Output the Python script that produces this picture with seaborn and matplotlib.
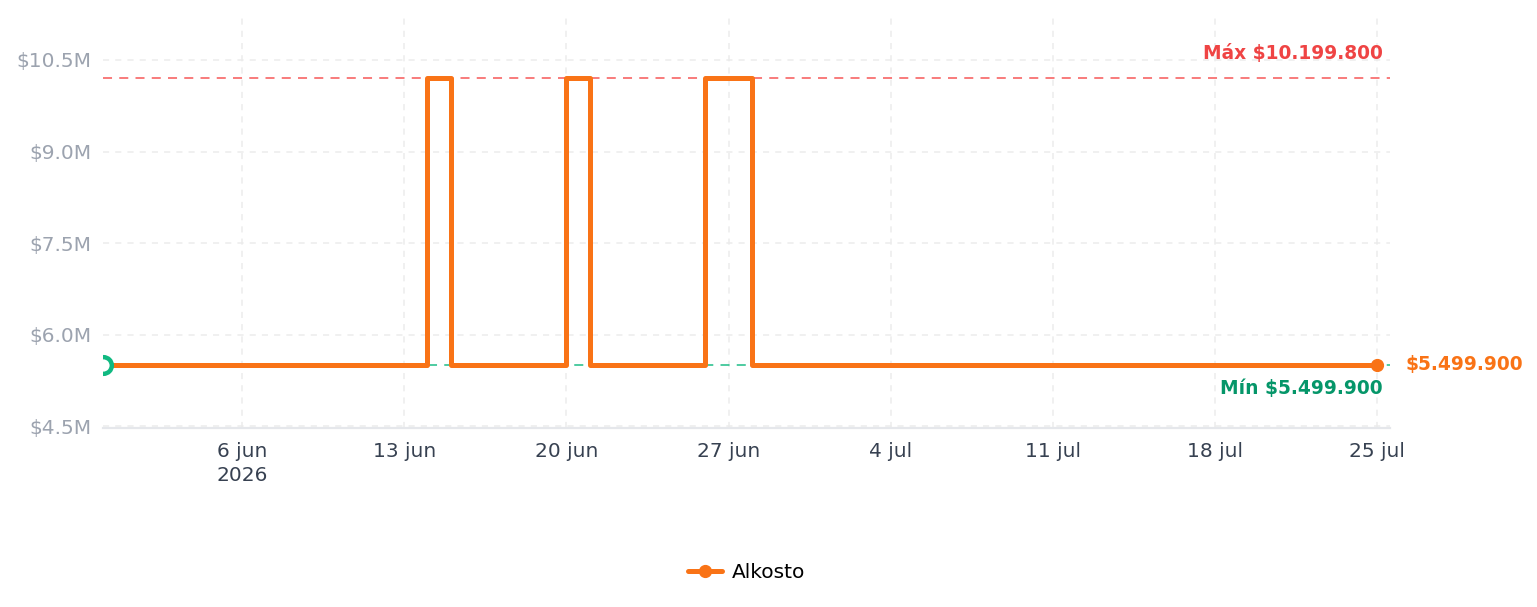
import matplotlib
matplotlib.use("Agg")
import matplotlib.pyplot as plt
import matplotlib.dates as mdates
from matplotlib.lines import Line2D
import seaborn as sns
import pandas as pd

# ---- data ----
dates = ["2026-05-31", "2026-06-14", "2026-06-15", "2026-06-20", "2026-06-21",
         "2026-06-26", "2026-06-28", "2026-07-25"]
prices = [5499900, 10199800, 5499900, 10199800, 5499900, 10199800, 5499900, 5499900]
store = "Alkosto"
tick_dates = ["2026-06-06", "2026-06-13", "2026-06-20", "2026-06-27",
              "2026-07-04", "2026-07-11", "2026-07-18", "2026-07-25"]
tick_labels = ["6 jun\n2026", "13 jun", "20 jun", "27 jun", "4 jul", "11 jul", "18 jul", "25 jul"]
y_ticks = [4.5e6, 6.0e6, 7.5e6, 9.0e6, 10.5e6]
max_price = 10199800
min_price = 5499900
max_label = "Máx $10.199.800"
min_label = "Mín $5.499.900"
last_label = "$5.499.900"

ORANGE = "#f97316"
GREEN = "#10b981"
GREEN_TXT = "#059669"
RED = "#f87171"
RED_TXT = "#ef4444"

sns.set_theme(style="white")
plt.rcParams['font.family'] = ['DejaVu Sans']

fig = plt.figure(figsize=(15.37, 6.07), dpi=100)
ax = fig.add_axes([0.067, 0.2949, 0.8374, 0.6804])

df = pd.DataFrame({"fecha": pd.to_datetime(dates), "precio": prices, "tienda": store})

# reference lines
ax.axhline(max_price, color=RED, lw=1.3, ls=(0, (5, 4)), zorder=2)
ax.axhline(min_price, color=GREEN, lw=1.3, ls=(0, (5, 4)), alpha=0.8, zorder=2)

sns.lineplot(data=df, x="fecha", y="precio", color=ORANGE, lw=3.6,
             drawstyle="steps-post", ax=ax, legend=False, zorder=3)

# start / end markers
ax.plot(df["fecha"].iloc[0], df["precio"].iloc[0], "o", mfc="white", mec=GREEN,
        ms=12, mew=3.2, zorder=5, clip_on=True)
ax.plot(df["fecha"].iloc[-1], df["precio"].iloc[-1], "o", color=ORANGE, ms=8.5, zorder=5,
        clip_on=False)

# axes limits
x0 = mdates.date2num(pd.Timestamp(dates[0]))
x1 = mdates.date2num(pd.Timestamp(dates[-1]))
ax.set_xlim(x0, x1 + 0.55)
ax.set_ylim(4.475e6, 11.235e6)

ax.set_xticks([mdates.date2num(pd.Timestamp(d)) for d in tick_dates])
ax.set_xticklabels(tick_labels, linespacing=1.35)
ax.set_yticks(y_ticks)
ax.set_yticklabels([f"${v/1e6:.1f}M" for v in y_ticks])
ax.set_xlabel("")
ax.set_ylabel("")

ax.tick_params(axis="y", length=0, labelcolor="#9ca3af", labelsize=14.5, pad=8)
ax.tick_params(axis="x", length=0, labelcolor="#374151", labelsize=14.5, pad=10)

ax.grid(True, color="#ececec", lw=1.1, ls=(0, (4, 4)), zorder=0)
for s in ["top", "right", "left"]:
    ax.spines[s].set_visible(False)
ax.spines["bottom"].set_color("#e5e7eb")
ax.spines["bottom"].set_linewidth(1.6)

# labels
ax.annotate(max_label, xy=(0.9946, max_price), xycoords=("axes fraction", "data"),
            xytext=(0, 17.5), textcoords="offset points", ha="right", va="center",
            color=RED_TXT, fontsize=13.4, fontweight="bold")
ax.annotate(min_label, xy=(0.9946, min_price), xycoords=("axes fraction", "data"),
            xytext=(0, -16.5), textcoords="offset points", ha="right", va="center",
            color=GREEN_TXT, fontsize=13.4, fontweight="bold")
ax.annotate(last_label, xy=(x1, prices[-1]), xycoords="data",
            xytext=(20, 0.5), textcoords="offset points", ha="left", va="center",
            color=ORANGE, fontsize=13.4, fontweight="bold", annotation_clip=False)

handle = Line2D([], [], color=ORANGE, lw=3.6, marker="o", ms=8.5)
leg = ax.legend([handle], [store], loc="center", bbox_to_anchor=(0.5, -0.349),
                frameon=False, fontsize=14.5, handlelength=1.7, handletextpad=0.45)
for t in leg.get_texts():
    t.set_color("black")

fig.savefig("out.png", dpi=100)
